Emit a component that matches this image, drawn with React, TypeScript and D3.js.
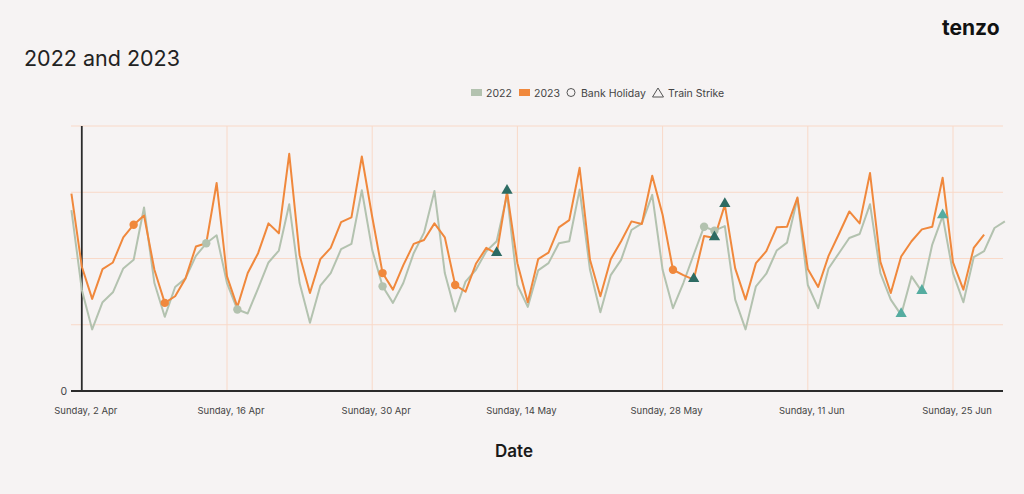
import React from "react";
import * as d3 from "d3";

const START = "2023-04-01";
const values2023 = [298,188,139,184,194,232,251,265,183,133,143,170,218,223,314,173,127,178,208,253,238,358,205,148,199,216,255,262,354,263,178,153,190,222,228,253,232,160,150,192,216,207,301,193,134,199,209,247,258,337,198,143,199,226,256,252,325,266,183,175,168,234,231,281,185,138,193,211,247,248,292,184,157,204,237,271,253,329,195,148,203,226,244,248,322,194,153,216,236];
const values2022 = [273,153,93,134,149,185,198,277,163,112,157,170,204,223,235,163,123,117,155,194,212,282,163,103,159,178,214,222,303,213,158,133,163,208,239,302,178,120,165,183,211,226,296,160,127,182,193,223,226,304,183,119,175,198,243,253,296,183,125,163,206,248,242,249,138,93,158,177,212,224,291,160,125,185,208,231,237,282,178,138,115,173,150,221,264,178,134,202,211,246,256];
// marker positions (index into the series arrays, day 0 = 1 Apr on the 2023 calendar)
const bankHoliday2023 = [6, 9, 30, 37, 58];
const bankHoliday2022 = [13, 16, 30, 61, 62];
const trainStrike2023 = [41, 42, 60, 62, 63];
const trainStrike2022 = [80, 82, 84];
const tickDates = ["2023-04-02","2023-04-16","2023-04-30","2023-05-14","2023-05-28","2023-06-11","2023-06-25"];
const yTicks = [0, 100, 200, 300, 400];

const C2022 = "#b3c2af";
const C2023 = "#f0883c";
const TRI2023 = "#2d6b63";
const TRI2022 = "#55aca0";
const GRID = "#f9d9c8";
const BG = "#f6f3f3";

export default function App() {
  const W = 1024, H = 494;
  const start = new Date(START + "T00:00:00Z");
  const dayDate = (i: number) => d3.utcDay.offset(start, i);
  const x = d3.scaleUtc()
    .domain([new Date("2023-04-02T00:00:00Z"), new Date("2023-06-25T00:00:00Z")])
    .range([81.8, 953]);
  const y = d3.scaleLinear().domain([0, 400]).range([391, 126]);
  const line = d3.line<number>().x((_, i) => x(dayDate(i))).y((v) => y(v));
  const fmt = d3.utcFormat("%A, %-d %b");
  const tri = d3.symbol().type(d3.symbolTriangle).size(55)();
  const font = "Inter, 'Noto Sans', sans-serif";

  return (
    <svg width={W} height={H} style={{ position: "absolute", left: 0, top: 0, background: BG }} fontFamily={font}>
      <rect width={W} height={H} fill={BG} />
      <text x={24} y={66} fontSize={21.5} fill="#222">2022 and 2023</text>
      <text x={942} y={35} fontSize={21} fontWeight={700} fill="#111" letterSpacing={0}>tenzo</text>

      {/* legend */}
      <g fontSize={10.5} fill="#444">
        <rect x={471} y={89} width={11} height={7} fill={C2022} />
        <text x={486} y={96.5}>2022</text>
        <rect x={519} y={89} width={11} height={7} fill={C2023} />
        <text x={534} y={96.5}>2023</text>
        <circle cx={571} cy={92.5} r={4} fill="none" stroke="#555" strokeWidth={1} />
        <text x={581} y={96.5}>Bank Holiday</text>
        <path d="M658,88 L663.5,97 L652.5,97 Z" fill="none" stroke="#555" strokeWidth={1} />
        <text x={668} y={96.5}>Train Strike</text>
      </g>

      {/* grid */}
      {yTicks.slice(1).map((t) => (
        <line key={t} x1={71} x2={1003} y1={y(t)} y2={y(t)} stroke={GRID} strokeWidth={1} />
      ))}
      {tickDates.slice(1).map((t) => {
        const xx = x(new Date(t + "T00:00:00Z"));
        return <line key={t} x1={xx} x2={xx} y1={126} y2={391} stroke={GRID} strokeWidth={1} />;
      })}

      {/* axes */}
      <line x1={71} x2={1003} y1={391} y2={391} stroke="#2b2b2b" strokeWidth={1.8} />
      <line x1={x(new Date("2023-04-02T00:00:00Z"))} x2={x(new Date("2023-04-02T00:00:00Z"))} y1={126} y2={391} stroke="#2b2b2b" strokeWidth={1.8} />
      <text x={67} y={395} fontSize={10.5} fill="#444" textAnchor="end">0</text>
      {tickDates.map((t) => (
        <text key={t} x={x(new Date(t + "T00:00:00Z")) + 4} y={414} fontSize={9.5} fill="#444" textAnchor="middle">
          {fmt(new Date(t + "T00:00:00Z"))}
        </text>
      ))}
      <text x={514} y={457} fontSize={17} fontWeight={600} fill="#1a1a1a" textAnchor="middle">Date</text>

      {/* lines */}
      <path d={line(values2022) || ""} fill="none" stroke={C2022} strokeWidth={2} strokeLinejoin="round" />
      <path d={line(values2023) || ""} fill="none" stroke={C2023} strokeWidth={2} strokeLinejoin="round" />

      {/* markers */}
      {bankHoliday2022.map((i) => (
        <circle key={"b22" + i} cx={x(dayDate(i))} cy={y(values2022[i])} r={4.2} fill={C2022} />
      ))}
      {bankHoliday2023.map((i) => (
        <circle key={"b23" + i} cx={x(dayDate(i))} cy={y(values2023[i])} r={4.2} fill={C2023} />
      ))}
      {trainStrike2022.map((i) => (
        <path key={"t22" + i} d={tri || ""} transform={`translate(${x(dayDate(i))},${y(values2022[i]) - 1})`} fill={TRI2022} />
      ))}
      {trainStrike2023.map((i) => (
        <path key={"t23" + i} d={tri || ""} transform={`translate(${x(dayDate(i))},${y(values2023[i]) - 1})`} fill={TRI2023} />
      ))}
    </svg>
  );
}
